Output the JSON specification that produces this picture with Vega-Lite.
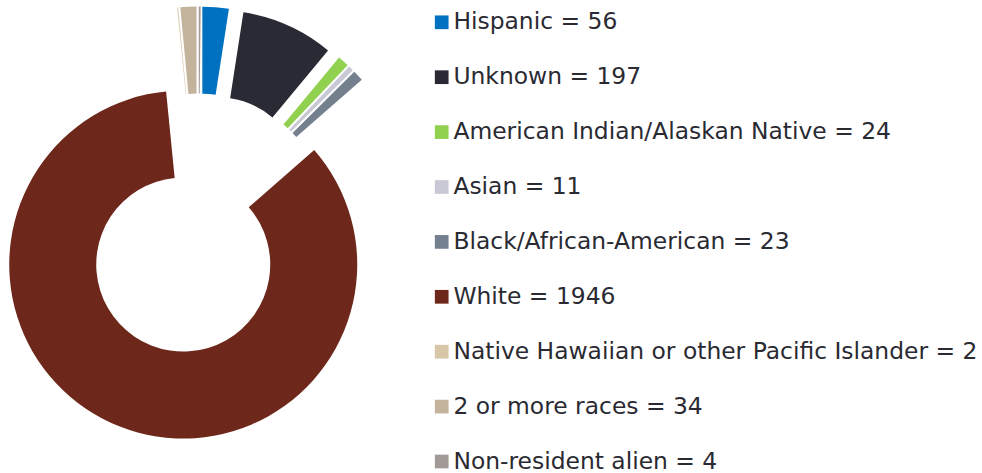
{
  "$schema": "https://vega.github.io/schema/vega-lite/v6.json",
  "width": 398,
  "height": 398,
  "autosize": {"type": "none"},
  "padding": {"left": 0, "top": 25, "right": 584, "bottom": 50},
  "background": "white",
  "config": {"view": {"stroke": null}},
  "data": {
    "values": [
      {"race": "Hispanic", "count": 56},
      {"race": "Unknown", "count": 197},
      {"race": "American Indian/Alaskan Native", "count": 24},
      {"race": "Asian", "count": 11},
      {"race": "Black/African-American", "count": 23},
      {"race": "White", "count": 1946},
      {"race": "Native Hawaiian or other Pacific Islander", "count": 2},
      {"race": "2 or more races", "count": 34},
      {"race": "Non-resident alien", "count": 4}
    ]
  },
  "transform": [
    {"joinaggregate": [{"op": "sum", "field": "count", "as": "total"}]},
    {"stack": "count", "groupby": [], "as": ["t0", "t1"]},
    {"calculate": "PI * (datum.t0 + datum.t1) / datum.total", "as": "mid"},
    {"calculate": "0.2186 * sin(datum.mid)", "as": "dx"},
    {"calculate": "0.2186 * cos(datum.mid)", "as": "dy"},
    {"calculate": "datum.race + ' = ' + datum.count", "as": "label"}
  ],
  "mark": {"type": "arc", "radius": 174, "radius2": 87},
  "encoding": {
    "theta": {"field": "t0", "type": "quantitative", "stack": null, "scale": {"nice": false, "zero": true}},
    "theta2": {"field": "t1"},
    "x": {"field": "dx", "type": "quantitative", "scale": {"domain": [-1, 1], "nice": false}, "axis": null},
    "y": {"field": "dy", "type": "quantitative", "scale": {"domain": [-1, 1], "nice": false}, "axis": null},
    "color": {
      "field": "label",
      "type": "nominal",
      "sort": null,
      "scale": {
        "domain": [
          "Hispanic = 56",
          "Unknown = 197",
          "American Indian/Alaskan Native = 24",
          "Asian = 11",
          "Black/African-American = 23",
          "White = 1946",
          "Native Hawaiian or other Pacific Islander = 2",
          "2 or more races = 34",
          "Non-resident alien = 4"
        ],
        "range": ["#0070C0", "#292A34", "#92D050", "#C9C9D6", "#75808F", "#6E271B", "#D8C6A9", "#C4B39C", "#A29A97"]
      },
      "legend": {
        "orient": "none",
        "legendX": 430,
        "legendY": -14.4,
        "title": null,
        "padding": 0,
        "symbolType": "square",
        "symbolSize": 188,
        "symbolStrokeWidth": 0,
        "labelFont": "DejaVu Sans",
        "labelFontSize": 23.4,
        "labelColor": "#2A2A32",
        "labelOffset": 0,
        "labelLimit": 700,
        "rowPadding": 29.9
      }
    }
  }
}
